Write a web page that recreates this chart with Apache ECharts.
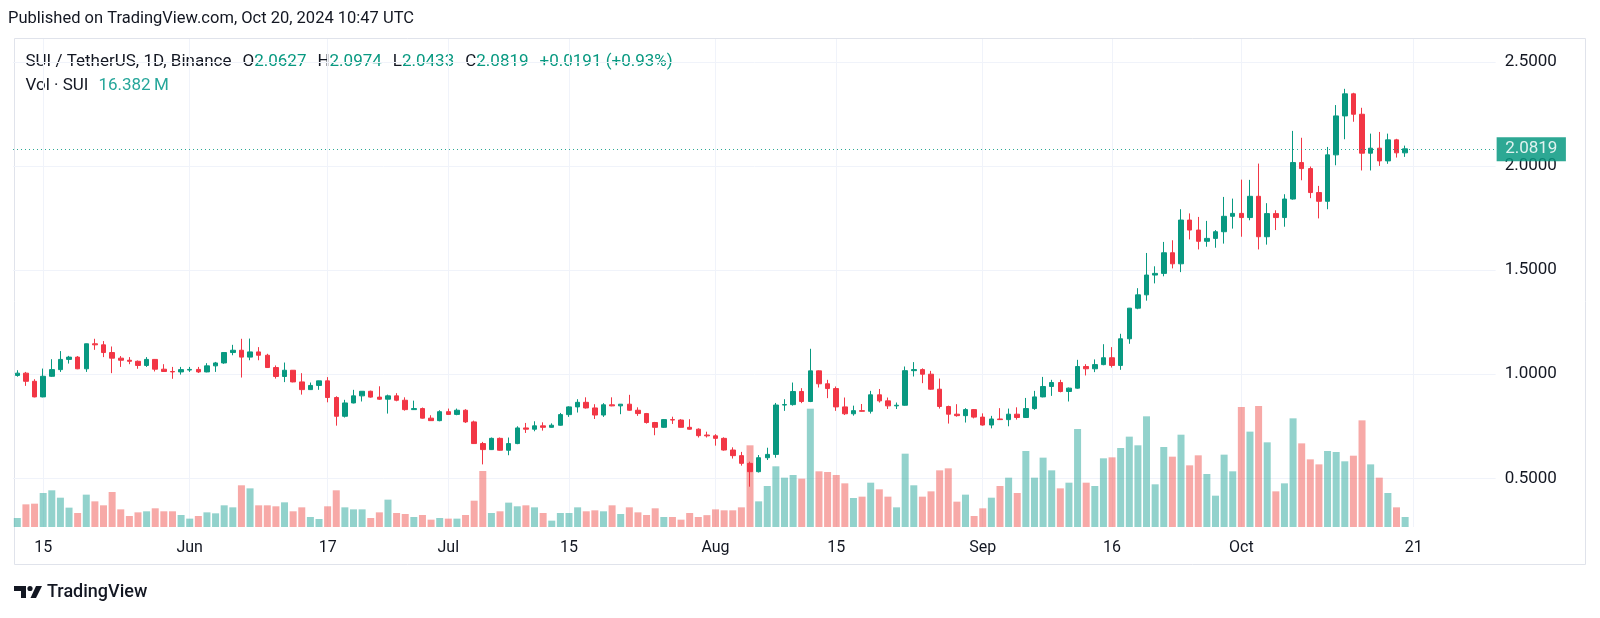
<!DOCTYPE html>
<html><head><meta charset="utf-8">
<script src="https://cdn.jsdelivr.net/npm/echarts@6/dist/echarts.min.js"></script>
<style>html,body{margin:0;padding:0;background:#fff}#c{width:1600px;height:618px}</style>
</head><body><div id="c"></div>
<script>
// ---------- DATA ----------
const startDate = '2024-05-12';
const futureDays = 10;
const opens = [
0.994,1.005,0.966,0.891,0.990,1.022,1.071,1.082,1.026,1.146,1.141,1.104,1.077,1.067,1.062,1.042,1.071,1.024,1.013,1.011,
1.020,1.023,1.011,1.040,1.054,1.104,1.115,1.082,1.107,1.091,1.032,0.989,1.019,0.963,0.926,0.946,0.968,0.888,0.798,0.862,0.896,0.918,0.890,0.880,0.896,0.875,0.830,0.835,0.789,0.777,
0.820,0.807,0.827,0.771,0.667,0.638,0.692,0.635,0.667,0.742,0.736,0.752,0.745,0.755,0.806,0.843,0.865,0.838,0.804,0.853,0.848,0.856,0.827,0.811,0.768,0.745,0.782,0.780,0.745,0.736,0.708,
0.704,0.692,0.636,0.609,0.572,0.532,0.599,0.615,0.852,0.854,0.917,0.869,1.016,0.954,0.931,0.843,0.810,0.825,0.822,0.901,0.872,0.848,0.851,1.017,1.022,1.000,0.928,0.845,0.808,0.801,0.830,
0.794,0.756,0.785,0.782,0.808,0.792,0.835,0.891,0.941,0.960,0.917,0.933,1.037,1.026,1.046,1.079,1.042,1.170,1.317,1.381,1.476,1.484,1.583,1.530,1.740,1.692,1.638,1.652,1.684,1.758,
1.772,1.752,1.854,1.660,1.771,1.752,1.841,2.016,1.987,1.872,1.830,2.053,2.240,2.346,2.248,2.061,2.085,2.024,2.125,2.0627];
const highs = [
1.019,1.011,0.976,1.027,1.072,1.111,1.088,1.087,1.147,1.170,1.159,1.133,1.087,1.082,1.066,1.082,1.073,1.048,1.035,1.035,
1.035,1.035,1.053,1.059,1.105,1.141,1.170,1.171,1.130,1.098,1.042,1.056,1.020,1.005,0.960,0.969,0.986,0.894,0.877,0.925,0.919,0.921,0.942,0.902,0.909,0.889,0.873,0.840,0.803,0.827,
0.835,0.835,0.832,0.777,0.675,0.696,0.696,0.696,0.750,0.766,0.774,0.769,0.764,0.814,0.846,0.880,0.889,0.856,0.861,0.889,0.857,0.901,0.841,0.814,0.771,0.785,0.796,0.784,0.784,0.740,0.724,
0.712,0.697,0.649,0.627,0.580,0.612,0.647,0.862,0.880,0.960,0.933,1.122,1.018,0.973,0.941,0.888,0.849,0.857,0.920,0.929,0.888,0.864,1.037,1.058,1.028,1.016,0.979,0.849,0.856,0.837,0.833,
0.812,0.800,0.837,0.835,0.841,0.886,0.920,0.987,0.973,0.973,0.936,1.069,1.048,1.071,1.144,1.130,1.194,1.318,1.413,1.582,1.518,1.635,1.643,1.792,1.772,1.755,1.736,1.692,1.851,1.843,
1.934,1.933,2.011,1.821,1.787,1.864,2.168,2.135,1.997,1.904,2.091,2.292,2.370,2.351,2.279,2.155,2.163,2.155,2.130,2.0974];
const lows = [
0.988,0.944,0.889,0.889,0.987,1.011,1.051,1.024,1.011,1.117,1.082,1.005,1.035,1.048,1.026,1.035,1.013,1.011,0.978,0.998,
1.011,1.006,1.009,1.011,1.050,1.091,0.984,1.067,1.067,1.030,0.979,0.962,0.961,0.902,0.924,0.925,0.865,0.753,0.792,0.860,0.869,0.887,0.877,0.811,0.870,0.825,0.829,0.787,0.776,0.774,
0.805,0.803,0.766,0.665,0.567,0.636,0.633,0.611,0.664,0.718,0.726,0.729,0.743,0.753,0.795,0.816,0.835,0.785,0.795,0.846,0.808,0.825,0.800,0.763,0.707,0.742,0.761,0.744,0.734,0.696,0.696,
0.657,0.633,0.595,0.561,0.460,0.528,0.588,0.599,0.824,0.849,0.861,0.866,0.936,0.885,0.824,0.804,0.801,0.820,0.811,0.864,0.833,0.833,0.849,0.989,0.957,0.925,0.835,0.763,0.796,0.768,0.788,
0.753,0.740,0.780,0.750,0.782,0.790,0.829,0.889,0.896,0.913,0.869,0.930,0.994,1.010,1.043,1.032,1.021,1.146,1.312,1.353,1.436,1.470,1.508,1.490,1.647,1.599,1.612,1.607,1.627,1.699,
1.660,1.739,1.599,1.622,1.692,1.708,1.838,1.931,1.845,1.748,1.792,2.003,2.128,2.212,1.978,1.978,2.000,2.010,2.040,2.0433];
const closes = [
1.005,0.966,0.891,0.990,1.022,1.071,1.082,1.026,1.146,1.141,1.104,1.077,1.067,1.062,1.042,1.071,1.024,1.013,1.011,1.022,
1.023,1.011,1.040,1.054,1.104,1.115,1.082,1.107,1.091,1.032,0.989,1.019,0.963,0.926,0.946,0.968,0.888,0.798,0.862,0.896,0.918,0.890,0.880,0.896,0.875,0.830,0.835,0.789,0.777,0.820,
0.807,0.827,0.771,0.667,0.638,0.692,0.635,0.667,0.742,0.736,0.752,0.745,0.755,0.806,0.843,0.865,0.838,0.804,0.853,0.848,0.856,0.827,0.811,0.768,0.745,0.782,0.780,0.745,0.736,0.705,0.704,
0.692,0.636,0.609,0.572,0.532,0.599,0.615,0.852,0.854,0.917,0.869,1.016,0.954,0.931,0.843,0.810,0.825,0.822,0.901,0.872,0.848,0.851,1.017,1.022,1.000,0.928,0.845,0.808,0.801,0.830,0.794,
0.756,0.785,0.782,0.808,0.792,0.835,0.891,0.941,0.960,0.917,0.933,1.037,1.026,1.046,1.079,1.042,1.170,1.317,1.381,1.476,1.484,1.583,1.530,1.740,1.692,1.638,1.652,1.684,1.758,1.772,
1.752,1.854,1.660,1.771,1.752,1.841,2.016,1.987,1.872,1.830,2.053,2.240,2.346,2.248,2.061,2.085,2.024,2.125,2.0627,2.0819];
const volumes = [ // millions of SUI
14.7,37.1,38.2,55.7,60.1,48.0,31.7,22.9,53.0,42.0,35.5,57.3,28.9,18.0,24.0,25.7,30.6,25.7,25.7,19.7,
13.7,18.0,24.0,22.4,35.5,32.2,68.3,63.3,35.5,35.5,33.9,40.4,25.7,32.2,16.4,13.1,33.9,60.1,32.2,28.9,28.9,14.7,24.0,44.8,22.9,21.3,16.4,19.7,12.0,14.7,
13.7,13.7,19.7,43.1,91.7,22.9,25.7,39.9,33.9,35.5,32.2,22.9,10.4,22.9,22.9,32.2,25.7,27.3,25.7,35.5,21.3,32.2,24.0,19.7,30.6,16.4,16.4,12.0,22.9,16.4,19.4,
28.9,27.3,27.3,32.2,133.8,42.0,67.2,99.4,80.8,85.2,79.2,193.8,91.2,90.1,85.2,71.5,47.5,49.7,72.6,61.7,49.7,32.2,120.1,68.3,49.7,58.4,92.8,96.1,41.5,53.0,18.0,
30.6,48.0,67.2,80.8,55.7,124.5,80.8,113.6,92.8,63.3,72.6,160.5,72.6,67.2,112.5,114.1,129.4,148.0,133.8,181.3,69.9,131.0,115.2,151.2,101.0,117.4,86.8,51.3,118.5,91.2,
196.6,156.2,198.2,138.7,58.4,71.5,178.0,137.0,110.8,102.6,124.5,122.9,107.6,116.8,174.7,102.6,80.8,55.7,32.2,16.382];
const tickDates = ['2024-05-15','2024-06-01','2024-06-17','2024-07-01','2024-07-15','2024-08-01','2024-08-15','2024-09-01','2024-09-16','2024-10-01','2024-10-21'];
const tickTexts = ['15','Jun','17','Jul','15','Aug','15','Sep','16','Oct','21'];
const priceTicks = ['0.5000','1.0000','1.5000','2.0000','2.5000'];
const lastPrice = 2.0819;
const lastVolume = 16.382;
const legendLine1 = [['SUI / TetherUS, 1D, Binance', 'd'], ['O', 'd'], ['2.0627', 'g'], ['H', 'd'], ['2.0974', 'g'],
  ['L', 'd'], ['2.0433', 'g'], ['C', 'd'], ['2.0819', 'g'], ['+0.0191 (+0.93%)', 'g']];
const legendLine2 = [['Vol · SUI', 'd'], ['16.382\u2009M', 't']];

// ---------- LAYOUT ----------
const FONT = "Roboto, 'Noto Sans', sans-serif";
const STEP = 8.62;          // px per day
const PANE_LEFT = 13, PANE_TOP = 39;
const VOL_BASE = 527;       // y of volume baseline
const Y_ZERO = 582.5;       // y where price 0 would be
const PX_PER_UNIT = 208.3;
const PX_PER_MVOL = 1 / 1.638;
const GREEN = '#089981', RED = '#F23645', DARK = '#131722', VOLTEAL = '#26a69a';

const n = opens.length;
const total = n + futureDays;
const dates = [];
const sd = new Date(startDate + 'T00:00:00Z');
for (let i = 0; i < total; i++) {
  const d = new Date(sd.getTime() + i * 86400000);
  dates.push(d.toISOString().slice(0, 10));
}
const tickMap = {};
tickDates.forEach((d, i) => { tickMap[d] = tickTexts[i]; });
const candleData = opens.map((o, i) => [o, closes[i], lows[i], highs[i]]);
const volData = volumes.map((v, i) => ({
  value: v,
  itemStyle: { color: closes[i] >= opens[i] ? 'rgba(38,166,154,0.5)' : 'rgba(239,83,80,0.5)' }
}));

const priceGridH = Y_ZERO - PANE_TOP;
const volGridH = VOL_BASE - PANE_TOP;
const LEG = '17px ' + FONT;
const colorOf = { d: DARK, g: GREEN, t: VOLTEAL };

const mctx = document.createElement('canvas').getContext('2d');
function textW(t, font) { mctx.font = font; return mctx.measureText(t).width; }
function legendRow(segs, x0, y, gap) {
  const out = [];
  let x = x0;
  segs.forEach((s, i) => {
    out.push({ type: 'text', x: x, y: y, style: { text: s[0], fill: colorOf[s[1]], font: LEG, verticalAlign: 'middle' } });
    x += textW(s[0], LEG);
    const next = segs[i + 1];
    if (next && !(s[0].length === 1 && s[1] === 'd')) x += gap;
  });
  return out;
}

const graphics = [
  { type: 'rect', z: -1, shape: { x: 14.5, y: 38.5, width: 1571, height: 526 },
    style: { fill: 'none', stroke: '#e0e3eb', lineWidth: 1 } },
  { type: 'text', x: 8, y: 18.5,
    style: { text: 'Published on TradingView.com, Oct 20, 2024 10:47 UTC', fill: DARK,
      font: '16.5px ' + FONT, verticalAlign: 'middle' } },
  // TradingView logo
  { type: 'polygon', shape: { points: [[14, 586], [26, 586], [26, 598], [21, 598], [21, 591], [14, 591]] }, style: { fill: DARK } },
  { type: 'circle', shape: { cx: 30, cy: 588.5, r: 2.6 }, style: { fill: DARK } },
  { type: 'polygon', shape: { points: [[36, 586], [42, 586], [36, 598], [30.5, 598]] }, style: { fill: DARK } },
  { type: 'text', x: 47, y: 592,
    style: { text: 'TradingView', fill: DARK, font: '500 18px ' + FONT, verticalAlign: 'middle' } }
].concat(legendRow(legendLine1, 25.5, 62, 11), legendRow(legendLine2, 25.5, 86, 10));

const chart = echarts.init(document.getElementById('c'), null, { renderer: 'canvas' });
chart.setOption({
  animation: false,
  backgroundColor: '#ffffff',
  grid: [
    { left: PANE_LEFT, top: PANE_TOP, width: total * STEP, height: priceGridH },
    { left: PANE_LEFT + STEP / 2, top: PANE_TOP, width: (total - 1) * STEP, height: volGridH }
  ],
  xAxis: [
    { type: 'category', gridIndex: 0, data: dates, boundaryGap: true, show: false },
    { type: 'category', gridIndex: 1, data: dates, boundaryGap: false,
      axisLine: { show: false }, axisTick: { show: false },
      axisLabel: { interval: (i, v) => v in tickMap, formatter: v => tickMap[v] || '',
        color: DARK, fontSize: 16, fontFamily: FONT, margin: 13 },
      splitLine: { show: true, interval: (i, v) => v in tickMap, lineStyle: { color: '#f0f3fa', width: 1 } } }
  ],
  yAxis: [
    { type: 'value', gridIndex: 0, position: 'right', min: 0, max: priceGridH / PX_PER_UNIT, interval: 0.5,
      axisLine: { show: false }, axisTick: { show: false },
      axisLabel: { showMinLabel: false, showMaxLabel: false, margin: 9,
        formatter: v => { const s = Number(v).toFixed(4); return priceTicks.includes(s) ? s : ''; },
        color: DARK, fontSize: 17, fontFamily: FONT },
      splitLine: { show: true, showMinLine: false, showMaxLine: false, lineStyle: { color: '#f0f3fa', width: 1 } } },
    { type: 'value', gridIndex: 1, min: 0, max: volGridH / PX_PER_MVOL, show: false }
  ],
  series: [
    { type: 'bar', xAxisIndex: 1, yAxisIndex: 1, data: volData, barWidth: 7, clip: false, z: 1,
      markLine: { silent: true, symbol: ['none', 'none'], animation: false,
        lineStyle: { opacity: 0 },
        label: { show: true, position: 'end', distance: 5, formatter: '16.382 M',
          backgroundColor: VOLTEAL, color: '#ffffff', fontSize: 17, fontFamily: FONT,
          lineHeight: 16, padding: [4, 8] },
        data: [{ yAxis: lastVolume }] } },
    { type: 'candlestick', xAxisIndex: 0, yAxisIndex: 0, data: candleData, barWidth: 5, z: 3,
      itemStyle: { color: GREEN, color0: RED, borderColor: GREEN, borderColor0: RED, borderWidth: 1 },
      markLine: { silent: true, symbol: ['none', 'none'], animation: false,
        lineStyle: { color: GREEN, type: [1, 3], width: 1, opacity: 0.85 },
        label: { show: true, position: 'end', distance: 1, formatter: '2.0819',
          backgroundColor: GREEN, color: '#ffffff', fontSize: 17, fontFamily: FONT,
          lineHeight: 16, padding: [4, 8.5] },
        data: [{ yAxis: lastPrice }] } }
  ],
  graphic: graphics
});
</script></body></html>
